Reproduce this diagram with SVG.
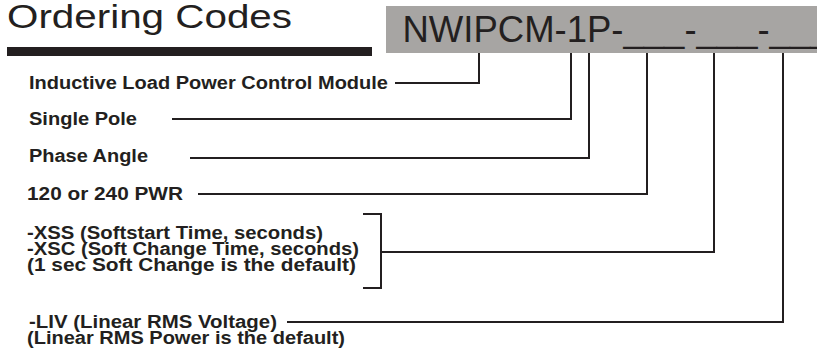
<svg xmlns="http://www.w3.org/2000/svg" width="817" height="356" viewBox="0 0 817 356">
<style>
.lbl{font-family:"Liberation Sans",Arial,sans-serif;font-weight:bold;font-size:18px;fill:#231f20}
.con{fill:none;stroke:#231f20;stroke-width:2}
</style>
<rect width="817" height="356" fill="#ffffff"/>
<g id="title">
<text x="7" y="28" font-family="'Liberation Sans',Arial,sans-serif" font-size="34" fill="#231f20" textLength="285" lengthAdjust="spacingAndGlyphs">Ordering Codes</text>
<rect x="7" y="47" width="365" height="9" fill="#231f20"/>
</g>
<g id="code">
<rect x="386" y="6" width="431" height="47" fill="#a7a5a3"/>
<text x="402.5" y="42" font-family="'Liberation Sans',Arial,sans-serif" font-size="36.5" fill="#231f20">NWIPCM-1P-___-___-___</text>
</g>
<g id="n-inductive"><text class="lbl" x="29" y="89" textLength="359" lengthAdjust="spacingAndGlyphs">Inductive Load Power Control Module</text></g>
<g id="n-single"><text class="lbl" x="29" y="125" textLength="108" lengthAdjust="spacingAndGlyphs">Single Pole</text></g>
<g id="n-phase"><text class="lbl" x="29" y="162" textLength="119" lengthAdjust="spacingAndGlyphs">Phase Angle</text></g>
<g id="n-pwr"><text class="lbl" x="27" y="200" textLength="156" lengthAdjust="spacingAndGlyphs">120 or 240 PWR</text></g>
<g id="n-xss">
<text class="lbl" x="27" y="239" textLength="296" lengthAdjust="spacingAndGlyphs">-XSS (Softstart Time, seconds)</text>
<text class="lbl" x="27" y="255" textLength="332" lengthAdjust="spacingAndGlyphs">-XSC (Soft Change Time, seconds)</text>
<text class="lbl" x="27" y="271" textLength="329" lengthAdjust="spacingAndGlyphs">(1 sec Soft Change is the default)</text>
</g>
<g id="n-liv">
<text class="lbl" x="29" y="328" textLength="248" lengthAdjust="spacingAndGlyphs">-LIV (Linear RMS Voltage)</text>
<text class="lbl" x="27" y="344" textLength="318" lengthAdjust="spacingAndGlyphs">(Linear RMS Power is the default)</text>
</g>
<g id="connectors">
<polyline class="con" points="395,83 479,83 479,53"/>
<polyline class="con" points="172,119 571,119 571,53"/>
<polyline class="con" points="190,158 589,158 589,53"/>
<polyline class="con" points="198,194 647,194 647,53"/>
<polyline class="con" points="363,214 381,214 381,288 363,288"/>
<polyline class="con" points="381,252 714,252 714,53"/>
<polyline class="con" points="287,322 783,322 783,53"/>
</g>
</svg>
